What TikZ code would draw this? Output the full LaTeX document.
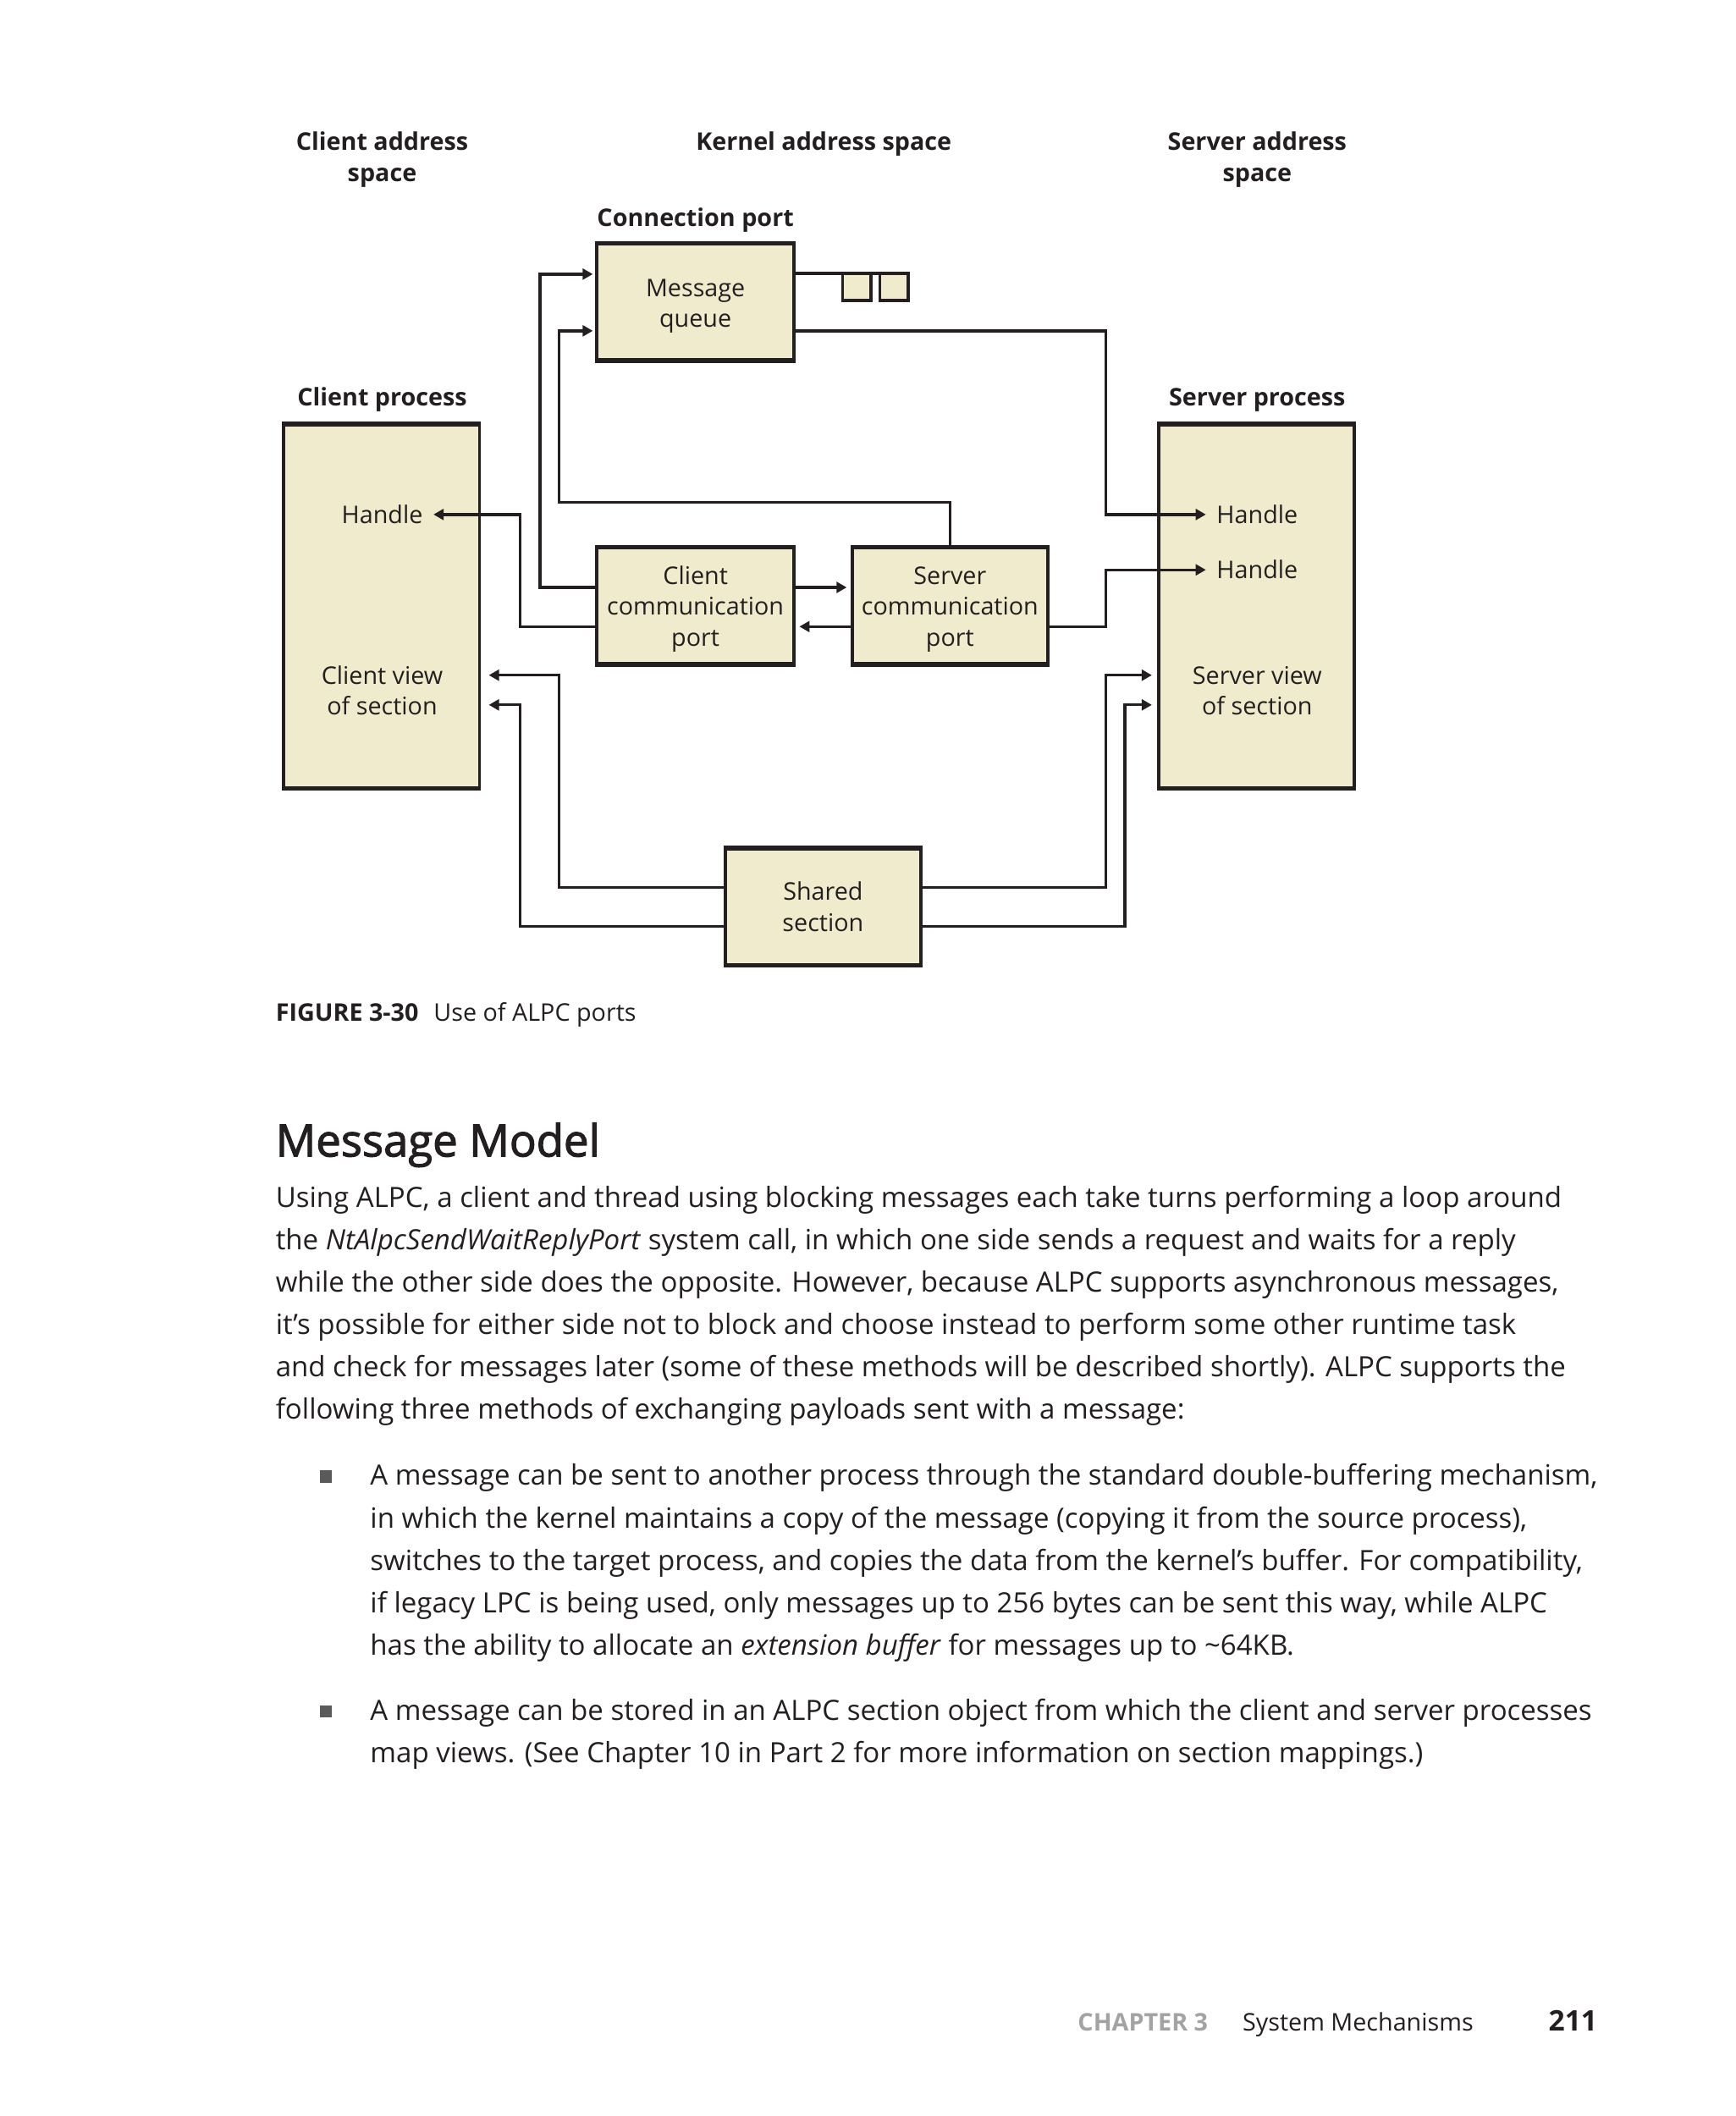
\documentclass[tikz,border=0pt]{standalone}
\usepackage{fontspec}
\setmainfont{Open Sans}
\newcommand{\semibold}[1]{\special{pdf:literal direct 0.7 w 2 Tr}#1\special{pdf:literal direct 0 Tr}}
\usetikzlibrary{arrows.meta}
\definecolor{boxfill}{HTML}{EFEBCC}
\definecolor{ink}{HTML}{231F20}
\definecolor{bulletgray}{HTML}{5A5A5A}
\definecolor{footgray}{HTML}{A3A3A3}
\begin{document}
\begin{tikzpicture}[x=1pt,y=-1pt,
  box/.style={draw=ink, line width=2.3pt, fill=boxfill, inner sep=0pt, outer sep=0pt},
  lbl/.style={font=\fontsize{18}{23}\selectfont, text=ink, inner sep=0pt, anchor=base},
  hdr/.style={font=\fontsize{18}{23}\selectfont\bfseries, text=ink, inner sep=0pt, anchor=base},
  conn/.style={draw=ink, line width=2.1pt},
  arr/.style={conn, -{Triangle[length=7.5pt,width=8pt]}},
  qsq/.style={draw=ink, line width=2.1pt, fill=boxfill, minimum width=21pt, minimum height=20pt, inner sep=0pt, outer sep=0pt},
  body/.style={font=\fontsize{20.7}{31.4}\selectfont, text=ink, inner sep=0pt, anchor=base west},
  bul/.style={fill=bulletgray, minimum size=9pt, inner sep=0pt}
]
\fill[white] (0,0) rectangle (1285,1567);
\useasboundingbox (0,0) rectangle (1285,1567);

% headers
\node[hdr] (h1a) at (283,111.5) {Client address};
\node[hdr] (h1b) at (283,134.5) {space};
\node[hdr] (h2) at (610,111.5) {Kernel address space};
\node[hdr] (h3a) at (931,111.5) {Server address};
\node[hdr] (h3b) at (931,134.5) {space};
\node[hdr] (hcp) at (515,167.5) {Connection port};
\node[hdr] (hclp) at (283,300.5) {Client process};
\node[hdr] (hsvp) at (931,300.5) {Server process};

% boxes
\node[box, minimum width=146pt, minimum height=87pt] (mq) at (515,223.5) {};
\node[box, minimum width=145pt, minimum height=270pt] (cp) at (282.5,449) {};
\node[box, minimum width=145pt, minimum height=270pt] (sp) at (930.5,449) {};
\node[box, minimum width=146pt, minimum height=87pt] (ccp) at (515,448.5) {};
\node[box, minimum width=145pt, minimum height=87pt] (scp) at (703.5,448.5) {};
\node[box, minimum width=145pt, minimum height=87pt] (ss) at (609.5,671.5) {};
\foreach \n in {mq,cp,sp,ccp,scp,ss}{
  \draw[ink, line width=3.3pt, shorten <=-1.15pt, shorten >=-1.15pt] (\n.north west) -- (\n.north east);
  \draw[ink, line width=3.3pt, shorten <=-1.15pt, shorten >=-1.15pt] (\n.south west) -- (\n.south east);
}
\node[qsq] (q1) at (634.5,212.5) {};
\node[qsq] (q2) at (662,212.5) {};

% box labels
\node[lbl] (mqa) at (515,219.5) {Message};
\node[lbl] (mqb) at (515,242.5) {queue};
\node[lbl] (cca) at (515,432.5) {Client};
\node[lbl] (ccb) at (515,455.5) {communication};
\node[lbl] (ccc) at (515,478.5) {port};
\node[lbl] (sca) at (703.5,432.5) {Server};
\node[lbl] (scb) at (703.5,455.5) {communication};
\node[lbl] (scc) at (703.5,478.5) {port};
\node[lbl] (ssa) at (609.5,666.5) {Shared};
\node[lbl] (ssb) at (609.5,689.5) {section};
\node[lbl] (ch) at (283,387.5) {Handle};
\node[lbl] (cva) at (283,506.5) {Client view};
\node[lbl] (cvb) at (283,529.5) {of section};
\node[lbl] (sh1) at (931,387.5) {Handle};
\node[lbl] (sh2) at (931,428.5) {Handle};
\node[lbl] (sva) at (931,506.5) {Server view};
\node[lbl] (svb) at (931,529.5) {of section};

% arrow tips
\coordinate (chA) at (321,381);
\coordinate (shA) at (893,381);
\coordinate (shB) at (893,422);
\coordinate (cvA) at (362,500);
\coordinate (cvB) at (362,522);
\coordinate (svA) at (853,500);
\coordinate (svB) at (853,522);

% connectors
\draw[conn] ([yshift=21pt]mq.east) -- (q1.north west) -- (q2.north east);
\draw[arr] ([yshift=13.5pt]ccp.west) -- ++(-42,0) |- ([yshift=20.5pt,xshift=-3pt]mq.west);
\draw[arr] (scp.north) -- ++(0,-33) -- ++(-289.5,0) |- ([yshift=-21.5pt,xshift=-3pt]mq.west);
\draw[arr] ([yshift=-21.5pt]mq.east) -- ++(231,0) |- (shA);
\draw[arr] ([yshift=-15.5pt]ccp.west) -- ++(-57,0) |- (chA);
\draw[arr] ([yshift=13.5pt]ccp.east) -- ([yshift=13.5pt,xshift=-4pt]scp.west);
\draw[arr] ([yshift=-15.5pt]scp.west) -- ([yshift=-15.5pt,xshift=4pt]ccp.east);
\draw[arr] ([yshift=-15.5pt]scp.east) -- ++(43,0) |- (shB);
\draw[arr] ([yshift=14.5pt]ss.west) -- ++(-123,0) |- (cvA);
\draw[arr] ([yshift=-14.5pt]ss.west) -- ++(-152,0) |- (cvB);
\draw[arr] ([yshift=14.5pt]ss.east) -- ++(137,0) |- (svA);
\draw[arr] ([yshift=-14.5pt]ss.east) -- ++(151,0) |- (svB);

% caption
\node[inner sep=0pt, anchor=base west, text=ink, font=\fontsize{18}{22}\selectfont\bfseries] (figno) at (204,756) {FIGURE 3-30};
\node[inner sep=0pt, anchor=base west, text=ink, font=\fontsize{18}{22}\selectfont] (figcap) at (321,756) {Use of ALPC ports};

% heading
\node[inner sep=0pt, anchor=base west, text=ink, font=\fontsize{33}{40}\selectfont] (head) at (204,856.4) {\semibold{Message Model}};

% body
\node[body] (b1) at (204,894) {Using ALPC, a client and thread using blocking messages each take turns performing a loop around};
\node[body] (b2) at (204,925.4) {the \textit{NtAlpcSendWaitReplyPort} system call, in which one side sends a request and waits for a reply};
\node[body] (b3) at (204,956.8) {while the other side does the opposite. However, because ALPC supports asynchronous messages,};
\node[body] (b4) at (204,988.2) {it’s possible for either side not to block and choose instead to perform some other runtime task};
\node[body] (b5) at (204,1019.6) {and check for messages later (some of these methods will be described shortly). ALPC supports the};
\node[body] (b6) at (204,1051) {following three methods of exchanging payloads sent with a message:};

% bullets
\node[bul] (bu1) at (241.5,1093.5) {};
\node[body] (p1) at (274,1100) {A message can be sent to another process through the standard double-buffering mechanism,};
\node[body] (p2) at (274,1131.4) {in which the kernel maintains a copy of the message (copying it from the source process),};
\node[body] (p3) at (274,1162.8) {switches to the target process, and copies the data from the kernel’s buffer. For compatibility,};
\node[body] (p4) at (274,1194.2) {if legacy LPC is being used, only messages up to 256 bytes can be sent this way, while ALPC};
\node[body] (p5) at (274,1225.6) {has the ability to allocate an \textit{extension buffer} for messages up to \textasciitilde64KB.};
\node[bul] (bu2) at (241.5,1267.5) {};
\node[body] (r1) at (274,1274) {A message can be stored in an ALPC section object from which the client and server processes};
\node[body] (r2) at (274,1305.4) {map views. (See Chapter 10 in Part 2 for more information on section mappings.)};

% footer
\node[inner sep=0pt, anchor=base west, text=footgray, font=\fontsize{18}{22}\selectfont\bfseries] (fch) at (798,1504) {CHAPTER 3};
\node[inner sep=0pt, anchor=base west, text=ink, font=\fontsize{18}{22}\selectfont] (fsm) at (920,1504) {System Mechanisms};
\node[inner sep=0pt, anchor=base east, text=ink, font=\fontsize{21}{24}\selectfont\bfseries] (fpg) at (1183,1504) {211};
\end{tikzpicture}
\end{document}
